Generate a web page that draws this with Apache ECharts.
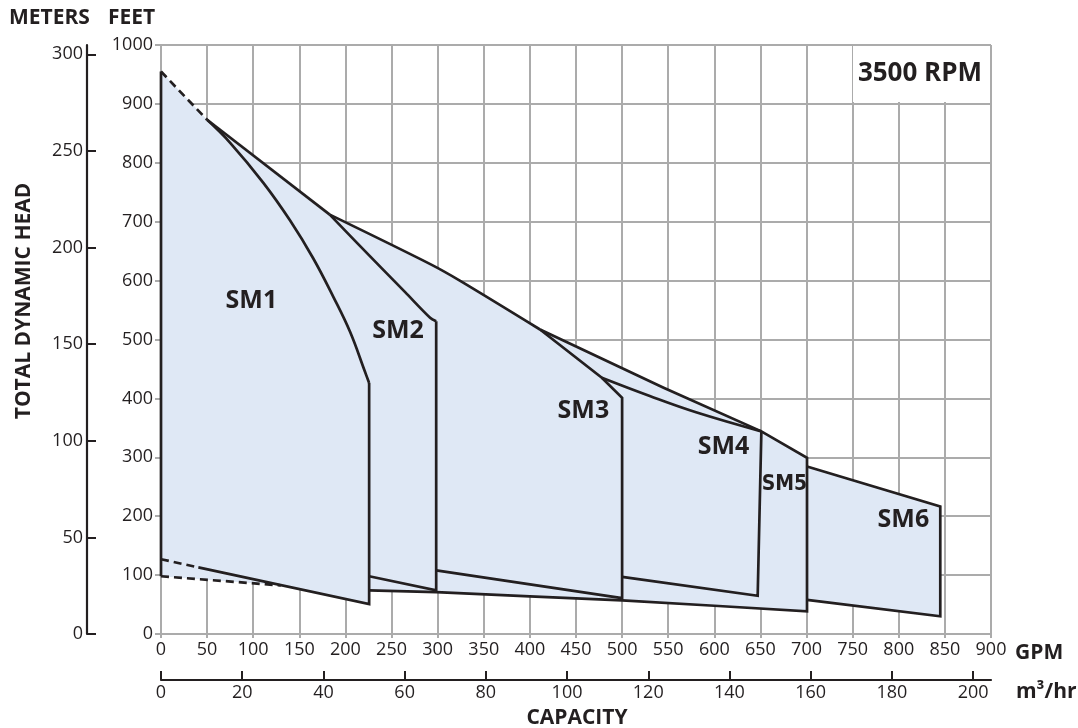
<!DOCTYPE html>
<html>
<head>
<meta charset="utf-8">
<script src="https://cdn.jsdelivr.net/npm/echarts@6/dist/echarts.min.js"></script>
<style>
html,body{margin:0;padding:0;background:#fff;}
#chart{width:1078px;height:728px;}
</style>
</head>
<body>
<div id="chart"></div>
<script>
// ---- data (GPM, feet) ----
const gpmMax = 900;
const feetMax = 1000;
const m3hrTicks = [0, 20, 40, 60, 80, 100, 120, 140, 160, 180, 200];
const meterTicks = [0, 50, 100, 150, 200, 250, 300];

// union outline of all pump ranges (for the fill)
const envelope = [[0,955],[50,873],[183,712],[292,628],[324,600],[411,517],[545,418],[650,344],[700,299],
  [700,284.5],[845,216.6],[845,30],[700,58],[700,38.4],[600,48],[500,57],[400,64],[298.4,71],[225.7,74],
  [225.7,51],[132,82.3],[0,98]];

const leftEdge = [[0,955],[0,98]];
const topDashed = [[0,955],[50,873]];
const bottomDashed = [[0,98],[130,82.5]];
const sm1Dashed = [[0,127],[40.5,113]];
const sm1Curve = [[50,873],[75,834],[111,766],[140,702],[165,638],[187,572],[205,513],[221,446],[225.7,426]];
const sm1Edge = [[225.7,426],[225.7,51],[40.5,113]];
const sm2Curve = [[183,712],[212,665],[240,620],[265,580],[291.8,537],[298.4,531]];
const sm2Edge = [[298.4,531],[298.4,74],[225.7,98]];
const sm3 = [[411,517],[478,435],[500,401],[500,61],[298.4,108]];
const sm4Curve = [[478,435],[530,404],[581,376],[651,344]];
const sm4Edge = [[651,344],[647,65],[500,97]];
const outerTop = [[50,873],[183,712]];
const outerCurve = [[183,712],[292,628],[324,600],[411,517]];
const outerEdge = [[411,517],[545,418],[651,344],[700.5,299],[700.5,38.4],[600,48],[500,57],[400,64],[298.4,71],[225.7,74]];
const sm6 = [[700.5,284.5],[845,216.6],[845,30],[700.5,58]];

const pumpLabels = [[98,565,'SM1'],[257,515,'SM2'],[458,379,'SM3'],[610,317,'SM4'],[676,253,'SM5'],[805,193,'SM6']];

// ---- styles ----
const INK = '#231f20';
const GRIDC = '#ababab';
const FILL = '#dfe8f5';
const FONT = 'Open Sans';

function outline(data, opts) {
  opts = opts || {};
  return {
    type: 'line', data: data, symbol: 'none', silent: true, z: 3, smooth: opts.smooth || false,
    lineStyle: { color: INK, width: 2.7, type: opts.dashed ? [8, 5] : 'solid', join: 'miter' }
  };
}

const chart = echarts.init(document.getElementById('chart'), null, { renderer: 'canvas' });
chart.setOption({
  animation: false,
  backgroundColor: '#fff',
  grid: { left: 161, right: 87, top: 45, bottom: 94, containLabel: false },
  xAxis: [
    {
      type: 'value', min: 0, max: gpmMax, interval: 50,
      axisLine: { show: false },
      axisTick: { show: true, length: 4, lineStyle: { color: GRIDC, width: 2 } },
      axisLabel: { fontFamily: FONT, fontSize: 18, color: INK, margin: 7 },
      splitLine: { show: true, lineStyle: { color: GRIDC, width: 2 } }
    },
    {
      type: 'value', position: 'bottom', offset: 46, min: 0, max: gpmMax / 4.40287,
      axisLine: { show: true, onZero: false, lineStyle: { color: INK, width: 2.2 } },
      axisTick: { show: true, inside: true, length: 9, customValues: m3hrTicks, lineStyle: { color: INK, width: 2 } },
      axisLabel: { fontFamily: FONT, fontSize: 18, color: INK, margin: 4, customValues: m3hrTicks },
      splitLine: { show: false }
    }
  ],
  yAxis: [
    {
      type: 'value', min: 0, max: feetMax, interval: 100,
      axisLine: { show: false },
      axisTick: { show: true, length: 6, lineStyle: { color: GRIDC, width: 2 } },
      axisLabel: { fontFamily: FONT, fontSize: 18, color: INK, margin: 8, formatter: function (v) { return String(v); } },
      splitLine: { show: true, lineStyle: { color: GRIDC, width: 2 } }
    },
    {
      type: 'value', position: 'left', offset: 74, min: 0, max: feetMax * 0.3048,
      axisLine: { show: true, onZero: false, lineStyle: { color: INK, width: 2.2 } },
      axisTick: { show: true, inside: true, length: 9, customValues: meterTicks, lineStyle: { color: INK, width: 2 } },
      axisLabel: { fontFamily: FONT, fontSize: 18, color: INK, margin: 4, customValues: meterTicks },
      splitLine: { show: false }
    }
  ],
  graphic: [
    { type: 'rect', left: 853, top: 46, z: 5, shape: { width: 136, height: 56 }, style: { fill: '#fff' } },
    { type: 'text', x: 920, y: 74, z: 6, style: { text: '3500 RPM', font: 'bold 26px "Open Sans"', fill: INK, align: 'center', verticalAlign: 'middle' } },
    { type: 'text', x: 9, y: 18, style: { text: 'METERS', font: 'bold 21px "Open Sans"', fill: INK, verticalAlign: 'middle' } },
    { type: 'text', x: 108, y: 18, style: { text: 'FEET', font: 'bold 21px "Open Sans"', fill: INK, verticalAlign: 'middle' } },
    { type: 'text', x: 1015, y: 653, style: { text: 'GPM', font: 'bold 21px "Open Sans"', fill: INK, verticalAlign: 'middle' } },
    { type: 'text', x: 1016, y: 692, style: { text: 'm³/hr', font: 'bold 21px "Open Sans"', fill: INK, verticalAlign: 'middle' } },
    { type: 'text', x: 577, y: 718, style: { text: 'CAPACITY', font: 'bold 21px "Open Sans"', fill: INK, align: 'center', verticalAlign: 'middle' } },
    { type: 'text', x: 24, y: 301, rotation: Math.PI / 2, style: { text: 'TOTAL DYNAMIC HEAD', font: 'bold 21px "Open Sans"', fill: INK, align: 'center', verticalAlign: 'middle' } }
  ],
  series: [
    {
      type: 'custom', silent: true, z: 1, data: [[0, 0]],
      renderItem: function (params, api) {
        return {
          type: 'polygon',
          shape: { points: envelope.map(function (p) { return api.coord(p); }) },
          style: { fill: FILL }
        };
      }
    },
    outline(leftEdge), outline(topDashed, { dashed: true }), outline(bottomDashed, { dashed: true }), outline(sm1Dashed, { dashed: true }),
    outline(sm1Curve, { smooth: 0.4 }), outline(sm1Edge),
    outline(sm2Curve, { smooth: 0.3 }), outline(sm2Edge),
    outline(sm3),
    outline(sm4Curve, { smooth: 0.4 }), outline(sm4Edge),
    outline(outerTop), outline(outerCurve, { smooth: 0.3 }), outline(outerEdge),
    outline(sm6),
    {
      type: 'custom', silent: true, z: 4,
      data: pumpLabels.map(function (d) { return [d[0], d[1]]; }),
      renderItem: function (params, api) {
        const p = api.coord([api.value(0), api.value(1)]);
        const name = pumpLabels[params.dataIndex][2];
        const narrow = name === 'SM5';
        return {
          type: 'text', x: p[0], y: p[1],
          style: {
            text: name,
            font: narrow ? 'bold 21px "DejaVu Sans Condensed", "Open Sans"' : 'bold 25px "Open Sans"',
            fill: INK, align: 'center', verticalAlign: 'middle'
          }
        };
      }
    }
  ]
});
</script>
</body>
</html>
